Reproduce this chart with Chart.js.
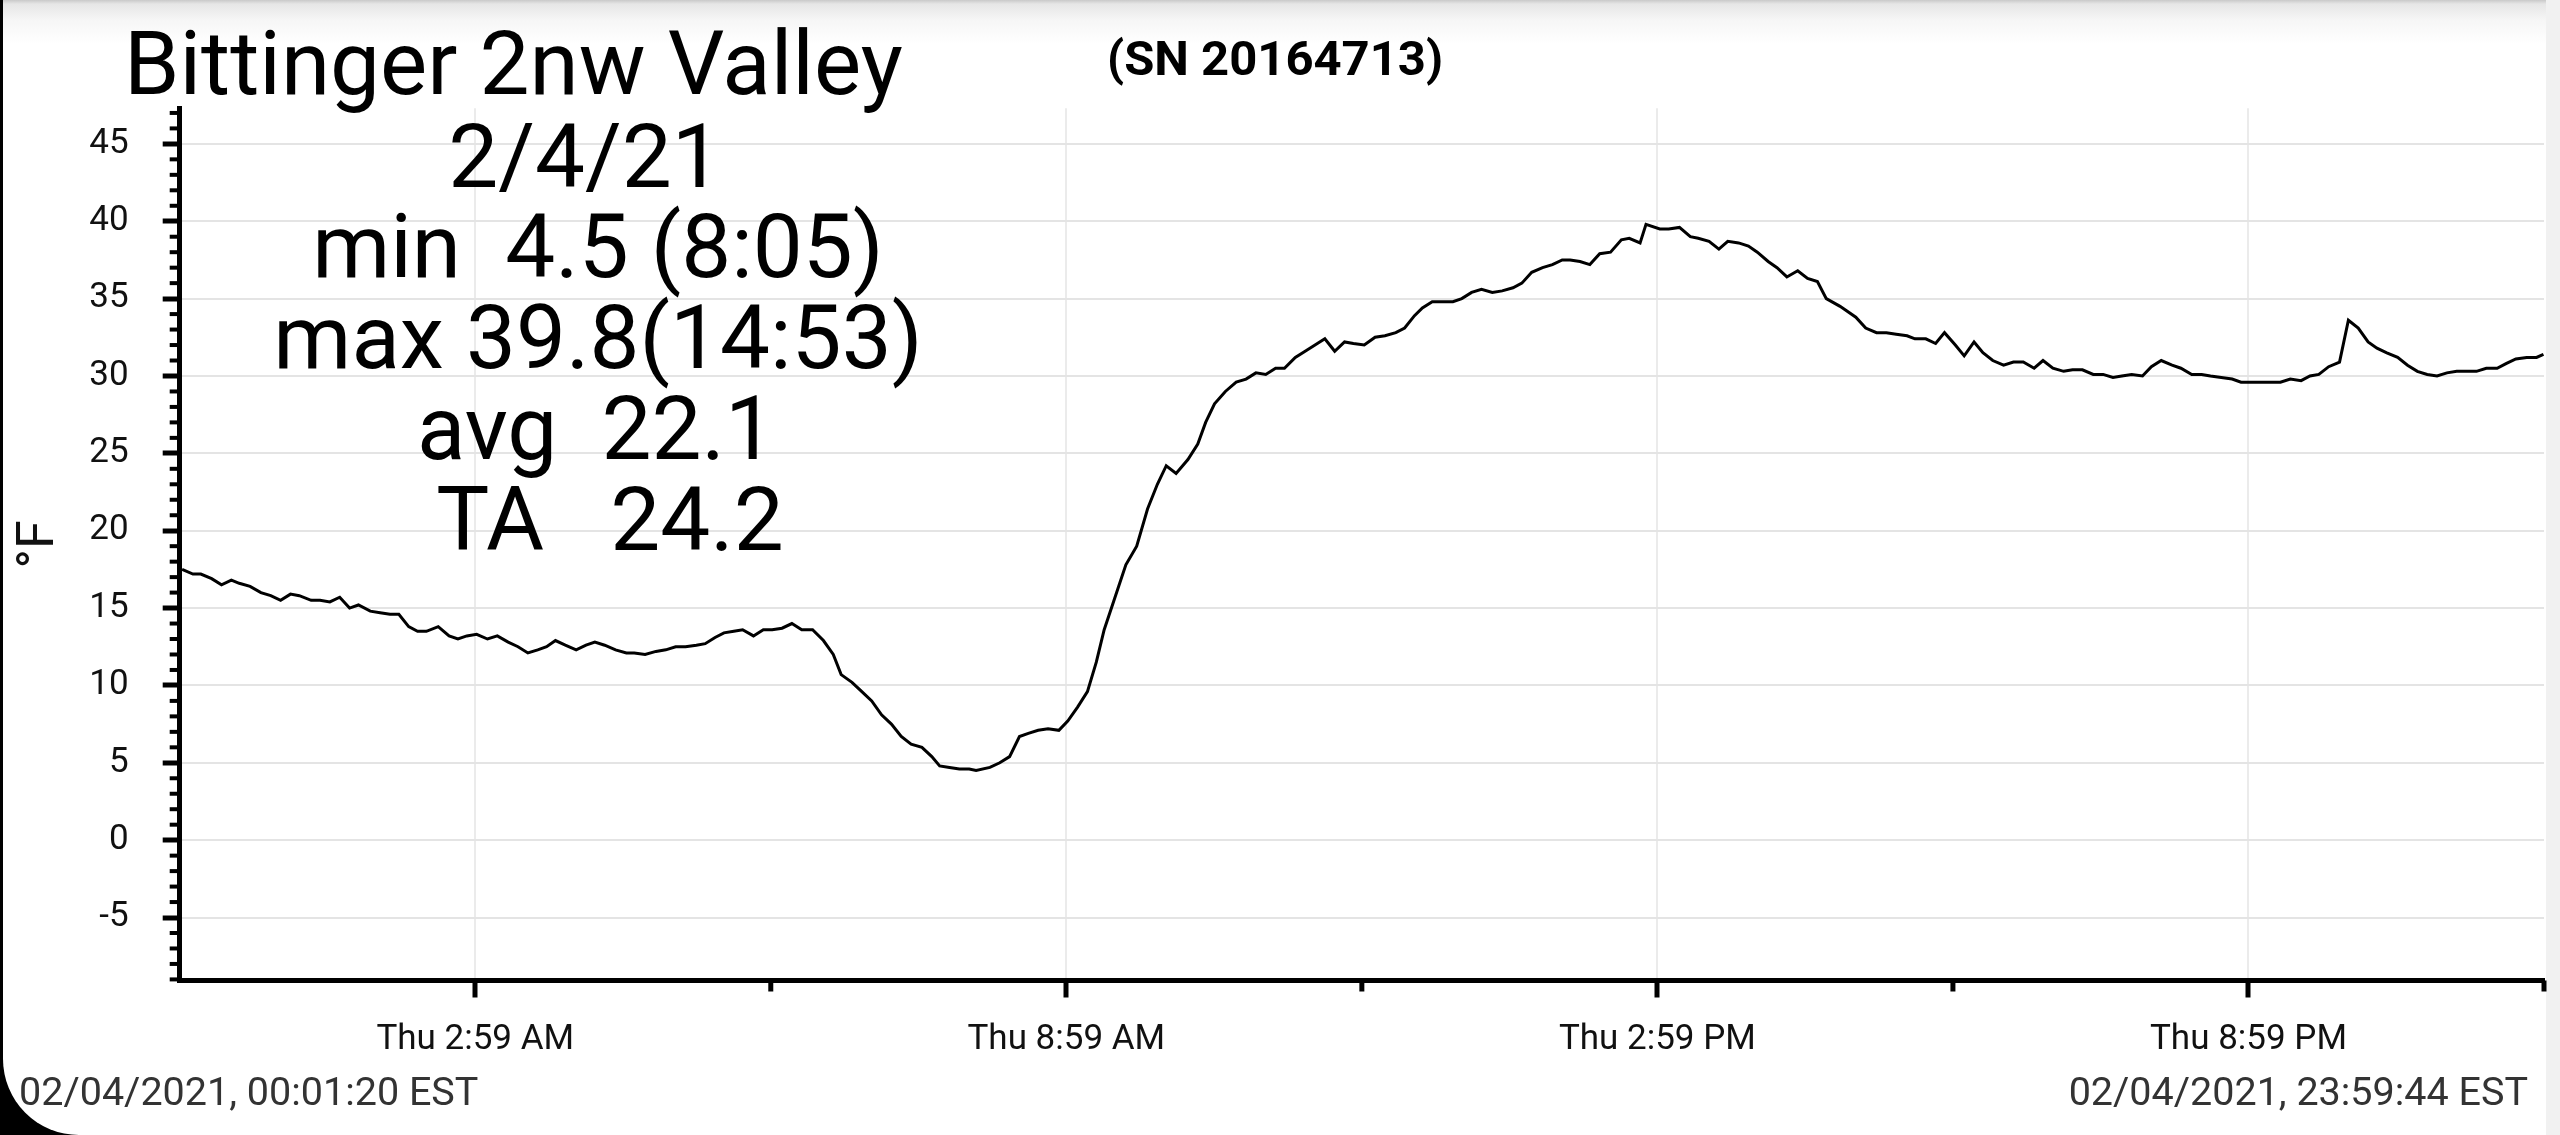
<!DOCTYPE html>
<html>
<head>
<meta charset="utf-8">
<script src="https://cdn.jsdelivr.net/npm/chart.js@4.4.1/dist/chart.umd.min.js"></script>
<style>
  html, body { margin:0; padding:0; background:#000; width:2560px; height:1135px; overflow:hidden; }
  #page { position:absolute; left:3px; top:0; width:2543px; height:1135px; background:#fff; border-bottom-left-radius:76px; }
  #shade { position:absolute; left:3px; top:0; width:2543px; height:44px; background:linear-gradient(#c9c9c9 0px, #e6e6e6 4px, #f6f6f6 20px, #ffffff 44px); }
  #strip { position:absolute; left:2546px; top:0; width:14px; height:1135px; background:#f1f1f1; }
  #c { position:absolute; left:0; top:0; }
</style>
</head>
<body>
<div id="page"></div>
<div id="shade"></div>
<div id="strip"></div>
<canvas id="c" width="2560" height="1135"></canvas>
<script>
// ---- data (hours since midnight, °F) ----
const timeHours = [
  0.02,0.13,0.21,0.32,0.42,0.52,0.60,0.71,0.82,0.92,1.02,1.12,1.21,1.33,1.42,1.52,1.62,1.72,1.81,1.93,
  2.03,2.13,2.22,2.32,2.41,2.50,2.62,2.73,2.82,2.91,3.01,3.12,3.22,3.33,3.43,3.53,3.63,3.72,3.81,3.91,
  4.02,4.12,4.21,4.31,4.42,4.53,4.61,4.72,4.83,4.93,5.03,5.13,5.24,5.33,5.43,5.52,5.62,5.71,5.82,5.92,
  6.01,6.11,6.21,6.31,6.42,6.53,6.63,6.71,6.82,6.92,7.02,7.12,7.22,7.32,7.42,7.53,7.63,7.71,7.81,7.91,
  8.01,8.08,8.22,8.32,8.42,8.52,8.61,8.71,8.81,8.92,9.01,9.11,9.21,9.30,9.38,9.48,9.60,9.71,9.82,9.92,
  10.01,10.11,10.23,10.33,10.41,10.50,10.61,10.72,10.82,10.92,11.02,11.12,11.21,11.32,11.42,11.52,11.62,11.72,11.82,11.91,
  12.02,12.13,12.23,12.34,12.43,12.53,12.61,12.71,12.83,12.92,13.01,13.11,13.21,13.32,13.42,13.53,13.62,13.72,13.83,13.93,
  14.03,14.11,14.21,14.31,14.41,14.52,14.63,14.71,14.82,14.88,15.02,15.11,15.22,15.33,15.41,15.52,15.62,15.71,15.82,15.92,
  16.01,16.12,16.21,16.31,16.42,16.52,16.62,16.71,16.85,17.01,17.11,17.22,17.32,17.42,17.53,17.61,17.72,17.82,17.91,18.02,
  18.11,18.21,18.30,18.40,18.51,18.61,18.71,18.82,18.91,19.01,19.12,19.21,19.31,19.42,19.52,19.62,19.71,19.81,19.92,20.01,
  20.11,20.22,20.31,20.42,20.52,20.61,20.72,20.83,20.92,21.03,21.13,21.22,21.32,21.42,21.53,21.62,21.71,21.81,21.92,22.01,
  22.11,22.21,22.30,22.40,22.51,22.61,22.71,22.81,22.91,23.01,23.11,23.22,23.31,23.41,23.52,23.61,23.71,23.82,23.92,23.99
];
const tempF = [
  17.5,17.2,17.2,16.9,16.5,16.8,16.6,16.4,16.0,15.8,15.5,15.9,15.8,15.5,15.5,15.4,15.7,15.0,15.2,14.8,
  14.7,14.6,14.6,13.8,13.5,13.5,13.8,13.2,13.0,13.2,13.3,13.0,13.2,12.8,12.5,12.1,12.3,12.5,12.9,12.6,
  12.3,12.6,12.8,12.6,12.3,12.1,12.1,12.0,12.2,12.3,12.5,12.5,12.6,12.7,13.1,13.4,13.5,13.6,13.2,13.6,
  13.6,13.7,14.0,13.6,13.6,12.9,12.0,10.7,10.2,9.6,9.0,8.1,7.5,6.7,6.2,6.0,5.4,4.8,4.7,4.6,
  4.6,4.5,4.7,5.0,5.4,6.7,6.9,7.1,7.2,7.1,7.7,8.6,9.6,11.5,13.6,15.5,17.8,19.0,21.4,23.0,
  24.2,23.7,24.6,25.6,27.0,28.2,29.0,29.6,29.8,30.2,30.1,30.5,30.5,31.2,31.6,32.0,32.4,31.6,32.2,32.1,
  32.0,32.5,32.6,32.8,33.1,33.9,34.4,34.8,34.8,34.8,35.0,35.4,35.6,35.4,35.5,35.7,36.0,36.7,37.0,37.2,
  37.5,37.5,37.4,37.2,37.9,38.0,38.8,38.9,38.6,39.8,39.5,39.5,39.6,39.0,38.9,38.7,38.2,38.7,38.6,38.4,
  38.0,37.4,37.0,36.4,36.8,36.3,36.1,35.0,34.5,33.8,33.1,32.8,32.8,32.7,32.6,32.4,32.4,32.1,32.8,32.0,
  31.3,32.2,31.5,31.0,30.7,30.9,30.9,30.5,31.0,30.5,30.3,30.4,30.4,30.1,30.1,29.9,30.0,30.1,30.0,30.6,
  31.0,30.7,30.5,30.1,30.1,30.0,29.9,29.8,29.6,29.6,29.6,29.6,29.6,29.8,29.7,30.0,30.1,30.6,30.9,33.6,
  33.1,32.2,31.8,31.5,31.2,30.7,30.3,30.1,30.0,30.2,30.3,30.3,30.3,30.5,30.5,30.8,31.1,31.2,31.2,31.4
];
const xTickHours = [2.9956, 8.9956, 14.9956, 20.9956];
const xTickLabels = ['Thu 2:59 AM', 'Thu 8:59 AM', 'Thu 2:59 PM', 'Thu 8:59 PM'];
const xMinorTickHours = [5.9956, 11.9956, 17.9956, 23.9956];
const yTickValues = [-5, 0, 5, 10, 15, 20, 25, 30, 35, 40, 45];
const xRange = [-0.0044, 23.9956];
const yRange = [-9.07, 47.3];
const titleText = 'Bittinger 2nw Valley';
const serialText = '(SN 20164713)';
const statLines = ['2/4/21', 'min  4.5 (8:05)', 'max 39.8(14:53)', 'avg  22.1', 'TA   24.2'];
const startStamp = '02/04/2021, 00:01:20 EST';
const endStamp = '02/04/2021, 23:59:44 EST';

const FONT = 'Roboto';

const overlay = {
  id: 'overlay',
  afterDraw(chart) {
    const c = chart.ctx;
    const a = chart.chartArea;
    const ys = chart.scales.y, xs = chart.scales.x;
    c.save();
    // minor y ticks
    c.strokeStyle = '#000';
    c.lineWidth = 4;
    for (let v = Math.ceil(yRange[0]); v <= Math.floor(yRange[1]); v++) {
      if (v % 5 === 0) continue;
      const py = ys.getPixelForValue(v);
      c.beginPath(); c.moveTo(a.left - 10, py); c.lineTo(a.left, py); c.stroke();
    }
    // minor x ticks
    c.lineWidth = 5;
    xMinorTickHours.forEach(h => {
      const px = xs.getPixelForValue(h);
      c.beginPath(); c.moveTo(px, a.bottom); c.lineTo(px, a.bottom + 11); c.stroke();
    });
    // texts
    c.fillStyle = '#000';
    c.textBaseline = 'alphabetic';
    c.textAlign = 'left';
    c.font = '89px ' + FONT;
    c.fillText(titleText, 124, 94);
    c.font = 'bold 49px ' + FONT;
    c.fillText(serialText, 1107, 75);
    c.font = '89px ' + FONT;
    c.textAlign = 'center';
    const centers = [585, 598, 598, 596, 610];
    const bases = [187, 277, 368, 459, 550];
    statLines.forEach((t, i) => c.fillText(t, centers[i], bases[i]));
    c.font = '39.5px ' + FONT;
    c.fillStyle = '#333';
    c.textAlign = 'left';
    c.fillText(startStamp, 19, 1105);
    c.textAlign = 'right';
    c.fillText(endStamp, 2528, 1105);
    c.restore();
  }
};

new Chart(document.getElementById('c'), {
  type: 'line',
  data: {
    datasets: [{
      data: timeHours.map((h, i) => ({ x: h, y: tempF[i] })),
      borderColor: '#000',
      borderWidth: 3,
      pointRadius: 0,
      tension: 0,
      fill: false
    }]
  },
  options: {
    responsive: false,
    animation: false,
    devicePixelRatio: 1,
    layout: { padding: { top: 108.3, right: 16, bottom: 64.5, left: 3 } },
    plugins: { legend: { display: false }, tooltip: { enabled: false } },
    scales: {
      x: {
        type: 'linear',
        min: xRange[0],
        max: xRange[1],
        afterBuildTicks: s => { s.ticks = xTickHours.map(v => ({ value: v })); },
        afterFit: s => { s.height = 90; },
        ticks: {
          callback: (v, i) => xTickLabels[i],
          autoSkip: false,
          maxRotation: 0,
          color: '#111',
          padding: 22,
          font: { family: FONT, size: 35 }
        },
        grid: { color: '#ebebeb', lineWidth: 2, tickLength: 17, tickWidth: 5, tickColor: '#000' },
        border: { color: '#000', width: 5 }
      },
      y: {
        type: 'linear',
        min: yRange[0],
        max: yRange[1],
        afterBuildTicks: s => { s.ticks = yTickValues.map(v => ({ value: v })); },
        afterFit: s => { s.width = 176.7; },
        ticks: {
          color: '#111',
          padding: 34,
          font: { family: FONT, size: 35 }
        },
        title: { display: true, text: '°F', color: '#111', font: { family: FONT, size: 52 }, padding: { top: 6, bottom: 0 } },
        grid: { color: '#e4e4e4', lineWidth: 2, tickLength: 17, tickWidth: 5, tickColor: '#000' },
        border: { color: '#000', width: 5 }
      }
    }
  },
  plugins: [overlay]
});
</script>
</body>
</html>
